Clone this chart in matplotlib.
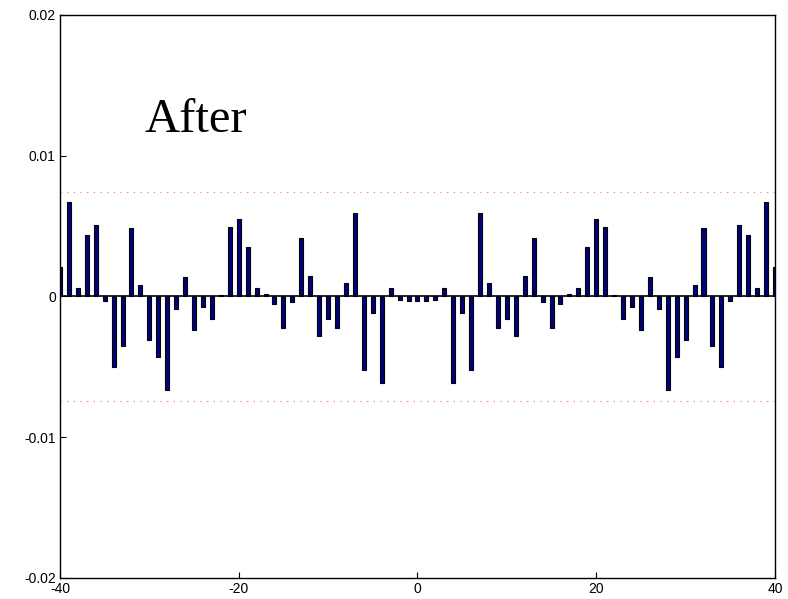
import matplotlib.pyplot as plt
import numpy as np

# lag axis and correlation values
lags = list(range(-40, 41))
values = [
    0.00206, 0.00668, 0.00061, 0.00438, 0.00507, -0.00033, -0.00504, -0.00353,
    0.00483, 0.00080, -0.00306, -0.00429, -0.00666, -0.00090, 0.00135, -0.00237,
    -0.00076, -0.00161, 0.00007, 0.00497, 0.00549, 0.00348, 0.00061, 0.00021,
    -0.00053, -0.00227, -0.00038, 0.00416, 0.00142, -0.00282, -0.00161, -0.00227,
    0.00095, 0.00592, -0.00524, -0.00119, -0.00618, 0.00057, -0.00028, -0.00033,
    -0.00033,
    -0.00033, -0.00028, 0.00057, -0.00618, -0.00119, -0.00524, 0.00592, 0.00095,
    -0.00227, -0.00161, -0.00282, 0.00142, 0.00416, -0.00038, -0.00227, -0.00053,
    0.00021, 0.00061, 0.00348, 0.00549, 0.00497, 0.00007, -0.00161, -0.00076,
    -0.00237, 0.00135, -0.00090, -0.00666, -0.00429, -0.00306, 0.00080, 0.00483,
    -0.00353, -0.00504, -0.00033, 0.00507, 0.00438, 0.00061, 0.00668, 0.00206,
]
conf_level = 0.0074
xticks = [-40, -20, 0, 20, 40]
yticks = [-0.02, -0.01, 0, 0.01, 0.02]
ytick_labels = ['-0.02', '-0.01', '0', '0.01', '0.02']
label = 'After'

fig = plt.figure(figsize=(7.88, 5.99), dpi=100)
ax = fig.add_axes([0.0761, 0.0351, 0.9074, 0.9399])

ax.bar(lags, values, width=0.45, color='#000080', edgecolor='black', linewidth=0.8, zorder=2)
ax.axhline(0, color='black', linewidth=1.2, zorder=3)
ax.axhline(conf_level, color='#ff6060', linestyle=(0, (1, 5)), linewidth=0.8)
ax.axhline(-conf_level, color='#ff6060', linestyle=(0, (1, 5)), linewidth=0.8)

ax.text(-30.5, 0.0117, label, fontsize=35, family='Liberation Serif')

ax.set_xlim(-40, 40)
ax.set_ylim(-0.02, 0.02)
ax.set_xticks(xticks)
ax.set_xticklabels([str(t) for t in xticks])
ax.set_yticks(yticks)
ax.set_yticklabels(ytick_labels)
ax.tick_params(direction='in', length=4.5, labelsize=10)
ax.tick_params(axis='x', pad=3)
ax.tick_params(axis='y', pad=3)
for lab in ax.get_xticklabels() + ax.get_yticklabels():
    lab.set_family('Liberation Sans')
for s in ax.spines.values():
    s.set_linewidth(1.0)

plt.savefig('out.png', dpi=100)
plt.close()
